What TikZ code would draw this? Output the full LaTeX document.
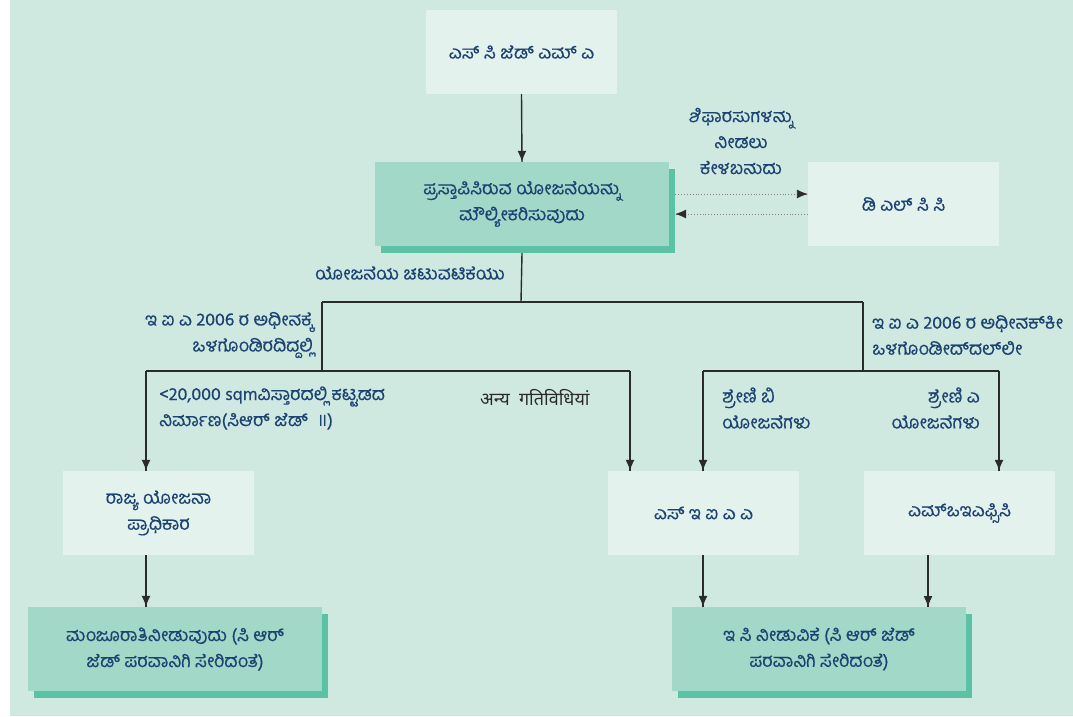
\documentclass[tikz,border=0pt]{standalone}
\usepackage{fontspec}
\setmainfont[Script=Kannada, FakeBold=0.4]{Hind Mysuru}
\newfontfamily\hindifont[Script=Devanagari]{Noto Sans}
\usepackage{tikz}
\usetikzlibrary{arrows.meta}
\usetikzlibrary{decorations.markings}
\usetikzlibrary{shadows}
\definecolor{bgmint}{HTML}{CFE9E0}
\definecolor{palebox}{HTML}{E4F2EE}
\definecolor{midgreen}{HTML}{A2D8C8}
\definecolor{darkgreen}{HTML}{5BC2A5}
\definecolor{inkblue}{HTML}{1D4372}
\definecolor{linegray}{HTML}{2B2B2B}
\tikzset{->/.style = {decoration={markings,
                                  mark=at position 1 with {\arrow{Latex[length=11pt, width=9pt, color=linegray]}}},
                      postaction={decorate}}}
\tikzset{
palebox/.style={fill=palebox, minimum width=191pt, minimum height=84pt, inner sep=0pt,
                font=\fontsize{18}{26}\selectfont, text=inkblue, align=center},
greenbox/.style={fill=midgreen, minimum width=294pt, minimum height=84pt, inner sep=0pt,
                 font=\fontsize{18}{26}\selectfont, text=inkblue, align=center,
                 drop shadow={shadow xshift=6pt, shadow yshift=-7pt, fill=darkgreen, opacity=1}},
lbl/.style={font=\fontsize{18}{26}\selectfont, text=inkblue, inner sep=0pt},
wire/.style={draw=linegray, line width=1.4pt},
}
\begin{document}
\begin{tikzpicture}[x=1pt, y=-1pt]
		\useasboundingbox (0,0) rectangle (1073,716);
		\fill[bgmint] (10,0) rectangle (1073,716);
		% boxes
		\node[palebox] (sczma) at (521.5, 52) {ಎಸ್ ಸಿ ಜೆಡ್ ಎಮ್ ಎ};
		\node[greenbox] (main) at (522, 204) {ಪ್ರಸ್ತಾಪಿಸಿರುವ ಯೋಜನೆಯನ್ನು\\ಮೌಲ್ಯೀಕರಿಸುವುದು};
		\node[palebox] (dlcc) at (903.5, 204) {ಡಿ ಎಲ್ ಸಿ ಸಿ};
		\node[palebox] (state) at (158.5, 513) {ರಾಜ್ಯ ಯೋಜನಾ\\ಪ್ರಾಧಿಕಾರ};
		\node[palebox] (seiaa) at (703.5, 513) {ಎಸ್ ಇ ಐ ಎ ಎ};
		\node[palebox] (moef) at (959.5, 513) {ಎಮ್‌ಒಇಎಫ್ಸಿಸಿ};
		\node[greenbox] (approve) at (175, 649) {ಮಂಜೂರಾತಿನೀಡುವುದು (ಸಿ ಆರ್\\ಜೆಡ್ ಪರವಾನಿಗಿ ಸೇರಿದಂತೆ)};
		\node[greenbox] (ec) at (819, 649) {ಇ ಸಿ ನೀಡುವಿಕೆ (ಸಿ ಆರ್ ಜೆಡ್\\ಪರವಾನಿಗಿ ಸೇರಿದಂತೆ)};
		% junctions
		\coordinate (1) at (521, 302);
		\coordinate (2) at (322, 302);
		\coordinate (3) at (863, 302);
		\coordinate (4) at (322, 371);
		\coordinate (5) at (146, 371);
		\coordinate (6) at (630, 371);
		\coordinate (7) at (863, 371);
		\coordinate (8) at (703, 371);
		\coordinate (9) at (999, 371);
		% labels
		\node[lbl, anchor=east] (l0) at (505, 273) {ಯೋಜನೆಯ ಚಟುವಟಿಕೆಯು};
		\node[lbl, align=center] (l1) at (741, 141) {ಶಿಫಾರಸುಗಳನ್ನು\\ನೀಡಲು\\ಕೇಳಬಹುದು};
		\node[lbl, anchor=east, align=right] (l2) at (313, 335) {ಇ ಐ ಎ 2006 ರ ಅಧೀನಕ್ಕೆ\\ಒಳಗೊಂಡಿರದಿದ್ದಲ್ಲಿ};
		\node[lbl, anchor=west, align=left] (l3) at (872, 335) {ಇ ಐ ಎ 2006 ರ ಅಧೀನಕ್‌ಕೀ\\ಒಳಗೊಂಡೀದ್‌ದಲ್‌ಲೀ};
		\node[lbl, anchor=west, align=left] (l4) at (159, 408) {<20,000 sqmವಿಸ್ತಾರದಲ್ಲಿ ಕಟ್ಟಡದ\\ನಿರ್ಮಾಣ(ಸಿಆರ್ ಜೆಡ್ \ {\hindifont ॥})};
		\node[lbl, anchor=west, text=linegray, font=\hindifont\fontsize{18}{26}\selectfont] (l5) at (480, 398) {अन्य \ गतिविधियां};
		\node[lbl, anchor=west, align=left] (l6) at (722, 408) {ಶ್ರೇಣಿ ಬಿ\\ಯೋಜನೆಗಳು};
		\node[lbl, anchor=east, align=right] (l7) at (980, 408) {ಶ್ರೇಣಿ ಎ\\ಯೋಜನೆಗಳು};
		% connectors
		\draw [wire, ->] (sczma.south) to (main.north);
		\draw [draw=gray, line width=0.9pt, dotted, ->] ([xshift=6pt, yshift=10pt]main.east) to ([yshift=10pt]dlcc.west);
		\draw [draw=gray, line width=0.9pt, dotted, ->] ([yshift=-10pt]dlcc.west) to ([xshift=6pt, yshift=-10pt]main.east);
		\draw [wire] ([yshift=-7pt]main.south) to (1);
		\draw [wire] (2) to (3);
		\draw [wire] (2) to (4);
		\draw [wire] (5) to (6);
		\draw [wire] (3) to (7);
		\draw [wire] (8) to (9);
		\draw [wire, ->] (5) to (5 |- state.north);
		\draw [wire, ->] (6) to (6 |- seiaa.north);
		\draw [wire, ->] (8) to (8 |- seiaa.north);
		\draw [wire, ->] (9) to (9 |- moef.north);
		\draw [wire, ->] (5 |- state.south) to (5 |- approve.north);
		\draw [wire, ->] (8 |- seiaa.south) to (8 |- ec.north);
		\draw [wire, ->] (928, 555) to (928, 607);
	\end{tikzpicture}
\end{document}
